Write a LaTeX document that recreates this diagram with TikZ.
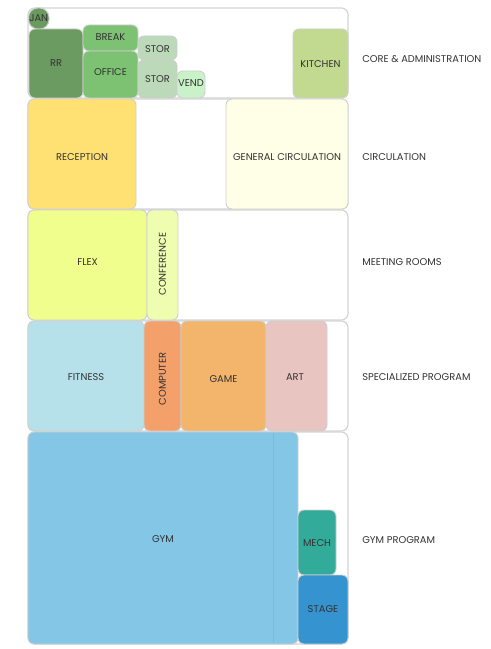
\documentclass[tikz,border=0pt]{standalone}
\usepackage{fontspec}
\setmainfont{Poppins}
\usetikzlibrary{fit}
\definecolor{grpline}{HTML}{D4D4D4}
\definecolor{roomline}{HTML}{CFCFCF}
\definecolor{txt}{HTML}{333333}
\definecolor{cJan}{HTML}{6A9A5E}
\definecolor{cRR}{HTML}{6B9B61}
\definecolor{cOff}{HTML}{7DC172}
\definecolor{cStor}{HTML}{BCD9BA}
\definecolor{cVend}{HTML}{C9F2C8}
\definecolor{cKit}{HTML}{C2DA8F}
\definecolor{cRec}{HTML}{FFE173}
\definecolor{cGen}{HTML}{FFFEE6}
\definecolor{cFlex}{HTML}{EFFE8C}
\definecolor{cConf}{HTML}{EFFDB0}
\definecolor{cFit}{HTML}{B7E1EA}
\definecolor{cComp}{HTML}{F3A06A}
\definecolor{cGame}{HTML}{F3B56B}
\definecolor{cArt}{HTML}{E8C5C1}
\definecolor{cGym}{HTML}{83C6E6}
\definecolor{cMech}{HTML}{33AB9A}
\definecolor{cStage}{HTML}{3593CF}
\begin{document}
\begin{tikzpicture}[x=0.75pt,y=-0.75pt,
  every node/.style={font=\fontsize{7.4}{9}\selectfont, text=txt},
  group/.style={draw=grpline, line width=0.9pt, fill=white, rounded corners=5pt, inner sep=0pt},
  room/.style={draw=roomline, line width=0.7pt, rounded corners=4.5pt, inner sep=0pt},
  grplabel/.style={anchor=west, inner sep=0pt}]
\useasboundingbox (0,0) rectangle (491,649);
% groups
\node[group, fit={(28,8)(348,98)}] (gcore) {};
\node[group, fit={(28,99)(348,209)}] (gcirc) {};
\node[group, fit={(28,210)(348,320)}] (gmeet) {};
\node[group, fit={(28,321)(348,431)}] (gspec) {};
\node[group, fit={(28,432)(348,644)}] (ggym) {};
% core
\node[room, fill=cJan, fit={(28.5,8)(49,29)}, rounded corners=7pt] (jan) {};
\node at (jan.center) {JAN};
\node[room, fill=cRR, fit={(29,29)(83,98)}] (rr) {};
\node at (56,63) {RR};
\node[room, fill=cOff, fit={(83,25)(138,51)}] (break) {};
\node at (110.5,37) {BREAK};
\node[room, fill=cOff, fit={(83,51)(138,98)}] (office) {};
\node at (110.5,72) {OFFICE};
\node[room, fill=cStor, fit={(138,36)(177,60)}] (stor1) {};
\node at (157.5,49) {STOR};
\node[room, fill=cStor, fit={(138,60)(177,98)}] (stor2) {};
\node at (157.5,79) {STOR};
\node[room, fill=cVend, fit={(177,71)(205,98)}] (vend) {};
\node at (191,83) {VEND};
\node[room, fill=cKit, fit={(293,29)(348,98)}] (kitchen) {};
\node at (320.5,64) {KITCHEN};
% circulation
\node[room, fill=cRec, fit={(28,99)(136,209)}] (reception) {};
\node at (82,157) {RECEPTION};
\node[room, fill=cGen, fit={(226,99)(348,209)}] (gencirc) {};
\node at (287,157) {GENERAL CIRCULATION};
% meeting
\node[room, fill=cFlex, fit={(28,210)(147,320)}] (flex) {};
\node at (87.5,262) {FLEX};
\node[room, fill=cConf, fit={(147,210)(178,320)}] (conf) {};
\node[rotate=90] at (162.5,264) {CONFERENCE};
% specialized
\node[room, fill=cFit, fit={(28,321)(144,431)}] (fitness) {};
\node at (86,377) {FITNESS};
\node[room, fill=cComp, fit={(144,321)(181,431)}] (computer) {};
\node[rotate=90] at (162.5,379) {COMPUTER};
\node[room, fill=cGame, fit={(181,321)(266,431)}] (game) {};
\node at (223.5,379) {GAME};
\node[room, fill=cArt, fit={(266,321)(327,431)}] (art) {};
\node at (295,377) {ART};
% gym
\node[room, fill=cGym, fit={(28,432)(298,644)}] (gym) {};
\node at (163,539) {GYM};
\draw[draw=cGym!85!black!40!cGym, line width=0.4pt] (273,433) -- (273,643);
\node[room, fill=cMech, fit={(298,510)(336,575)}] (mech) {};
\node at (317,543) {MECH};
\node[room, fill=cStage, fit={(298,575)(348,644)}] (stage) {};
\node at (323,609) {STAGE};
% group labels
\node[grplabel] (lcore) at (362,59) {CORE \& ADMINISTRATION};
\node[grplabel] (lcirc) at (362,157) {CIRCULATION};
\node[grplabel] (lmeet) at (362,262) {MEETING ROOMS};
\node[grplabel] (lspec) at (362,377) {SPECIALIZED PROGRAM};
\node[grplabel] (lgym) at (362,540) {GYM PROGRAM};
\end{tikzpicture}
\end{document}
